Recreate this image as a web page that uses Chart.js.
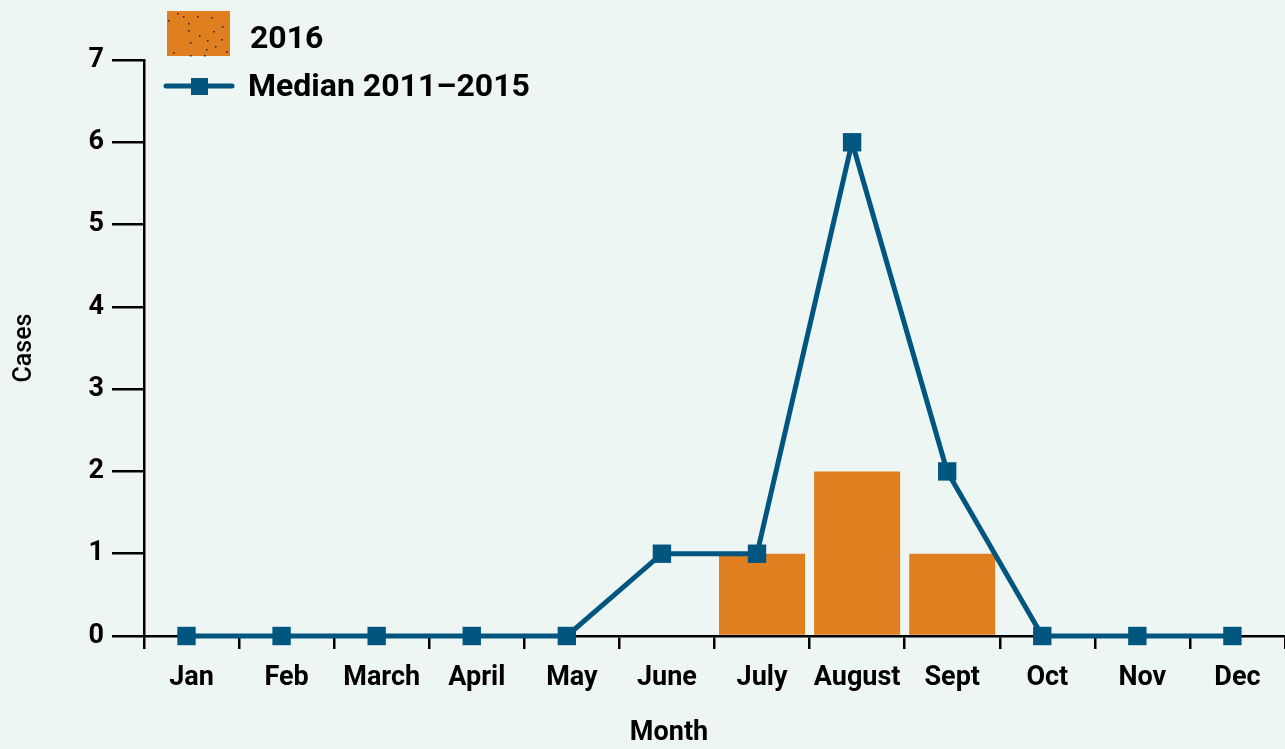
<!DOCTYPE html>
<html>
<head>
<meta charset="utf-8">
<script src="https://cdn.jsdelivr.net/npm/chart.js@4"></script>
<style>
  html, body { margin: 0; padding: 0; background: #eef6f3; }
  #wrap { width: 1285px; height: 749px; }
</style>
</head>
<body>
<div id="wrap"><canvas id="casesChart" width="1285" height="749"></canvas></div>
<script>
// data
var months = ['Jan', 'Feb', 'March', 'April', 'May', 'June', 'July', 'August', 'Sept', 'Oct', 'Nov', 'Dec'];
var cases2016 = [0, 0, 0, 0, 0, 0, 1, 2, 1, 0, 0, 0];
var median2011_2015 = [0, 0, 0, 0, 0, 1, 1, 6, 2, 0, 0, 0];
var yTicks = [0, 1, 2, 3, 4, 5, 6, 7];

var FONT = '"Liberation Sans Narrow", "Roboto", sans-serif';
var ORANGE = '#df7f1f';
var BLUE = '#00567f';

// legend drawn by hand (swatches stacked on the top left), plus the x title
var legendPlugin = {
    id: 'stackLegend',
    afterDraw: function (chart) {
        var c = chart.ctx;
        c.save();
        // 2016 swatch with a few dots
        c.fillStyle = ORANGE;
        c.fillRect(167, 11, 63, 45);
        c.fillStyle = '#222';
        var dots = [[177, 13], [183, 16], [197, 16], [188, 23], [211, 17], [222, 26], [168, 20], [188, 30], [199, 35], [213, 31], [221, 39], [190, 42], [207, 40], [206, 49], [173, 52], [190, 55], [204, 55], [226, 51], [215, 46]];
        dots.forEach(function (d) { c.fillRect(d[0], d[1], 1.5, 1.5); });
        // median line swatch
        c.strokeStyle = BLUE;
        c.lineWidth = 5;
        c.lineCap = 'round';
        c.beginPath();
        c.moveTo(166, 86);
        c.lineTo(232, 86);
        c.stroke();
        c.fillStyle = BLUE;
        c.fillRect(191, 78, 17, 17);
        c.fillStyle = '#000';
        c.font = 'bold 32px ' + FONT;
        c.textBaseline = 'middle';
        c.fillText(chart.data.datasets[0].label, 250, 40);
        c.fillText(chart.data.datasets[1].label, 248, 88);
        // x axis title
        c.font = 'bold 27px ' + FONT;
        c.textAlign = 'center';
        c.fillText('Month', 669, 733);
        c.restore();
    }
};

var ctx = document.getElementById('casesChart').getContext('2d');
var myChart = new Chart(ctx, {
    type: 'line',
    data: {
        labels: months,
        datasets: [
            {
                type: 'bar',
                label: '2016',
                data: cases2016,
                backgroundColor: ORANGE,
                grouped: false,
                barPercentage: 0.905,
                categoryPercentage: 1.0,
                order: 2
            },
            {
                type: 'line',
                label: 'Median 2011\u20132015',
                data: median2011_2015.map(function (v, i) { return { x: i, y: v }; }),
                xAxisID: 'xLine',
                borderColor: BLUE,
                backgroundColor: BLUE,
                borderWidth: 5,
                pointStyle: 'rect',
                pointRadius: 13,
                pointBorderWidth: 0,
                tension: 0,
                clip: false,
                order: 1
            }
        ]
    },
    options: {
        responsive: false,
        animation: false,
        layout: { autoPadding: false, padding: { top: 60, right: 0, left: 0, bottom: 0 } },
        plugins: {
            legend: { display: false },
            tooltip: { enabled: false }
        },
        scales: {
            x: {
                type: 'category',
                offset: true,
                grid: {
                    offset: true,
                    drawOnChartArea: false,
                    drawTicks: true,
                    tickLength: 13,
                    color: '#000',
                    lineWidth: 2.5
                },
                border: { display: true, color: '#000', width: 2.5 },
                ticks: {
                    color: '#000',
                    padding: 13,
                    maxRotation: 0,
                    autoSkip: false,
                    font: { family: FONT, size: 27, weight: 'bold' }
                },
                title: { display: false },
                afterFit: function (scale) {
                    scale.height = 113;
                    scale.paddingLeft = 0;
                    scale.paddingRight = 0;
                }
            },
            xLine: {
                type: 'linear',
                display: false,
                offset: false,
                min: -0.447,
                max: 11.553
            },
            y: {
                min: 0,
                max: 7,
                afterBuildTicks: function (scale) {
                    scale.ticks = yTicks.map(function (v) { return { value: v }; });
                },
                grid: {
                    drawOnChartArea: false,
                    drawTicks: true,
                    tickLength: 32,
                    color: '#000',
                    lineWidth: 2.5
                },
                border: { display: true, color: '#000', width: 2.5 },
                ticks: {
                    color: '#000',
                    padding: 8,
                    font: { family: FONT, size: 27, weight: 'bold' }
                },
                title: {
                    display: true,
                    text: 'Cases',
                    color: '#000',
                    padding: { top: 10, bottom: 6 },
                    font: { family: FONT, size: 25, weight: '500' }
                },
                afterFit: function (scale) {
                    scale.width = 144;
                    scale.paddingTop = 0;
                    scale.paddingBottom = 0;
                }
            }
        }
    },
    plugins: [legendPlugin]
});
</script>
</body>
</html>
